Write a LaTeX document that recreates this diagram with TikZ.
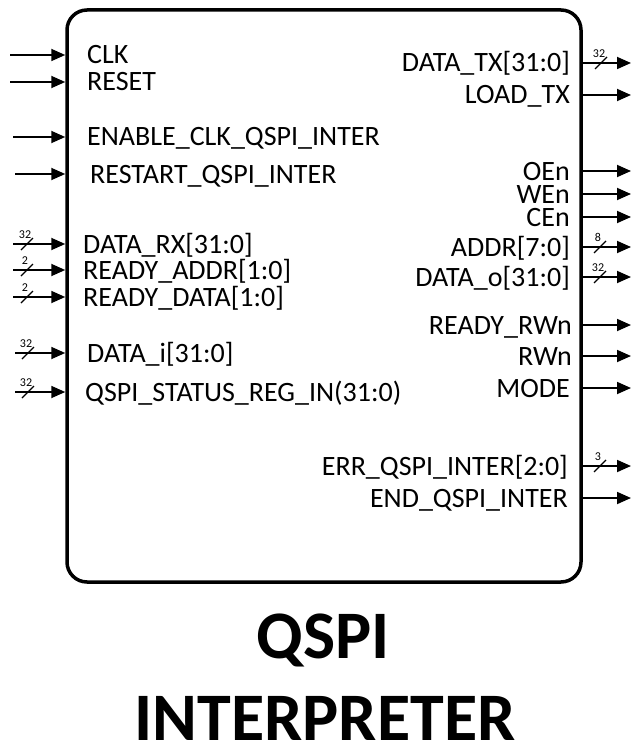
\documentclass[tikz,border=0pt]{standalone}
\usepackage{fontspec}
\setmainfont{Carlito}
\usetikzlibrary{arrows.meta}
\tikzset{
  sig/.style={line width=1.8pt,-{Triangle[length=14pt,width=12pt]}},
  port/.style={inner sep=0pt,font=\fontsize{28}{28}\selectfont,text height=18pt,text depth=0pt},
  inport/.style={port,anchor=west},
  outport/.style={port,anchor=east},
  busslash/.style={line width=1.2pt},
  buslabel/.style={inner sep=0pt,font=\fontsize{12}{12}\selectfont},
  pics/bus/.style={code={
    \draw[busslash] (-6,6) -- (6,-6);
    \node[buslabel] at (-2,-9.5) {#1};
  }},
  title/.style={inner sep=0pt,font=\fontsize{68}{68}\selectfont\bfseries,text height=43.8pt,text depth=0pt}
}
\begin{document}
\begin{tikzpicture}[x=1pt,y=-1pt]
\useasboundingbox (0,0) rectangle (632,746);

% the block
\node[draw,line width=3.5pt,rounded corners=20pt,inner sep=0pt,
      minimum width=514pt,minimum height=572pt] (blk) at (324,296) {};

% inputs
\node[inport] (clk)   at (87,55)  {CLK};
\node[inport] (rst)   at (87,82)  {RESET};
\node[inport] (ena)   at (87,137) {ENABLE\_CLK\_QSPI\_INTER};
\node[inport] (rsq)   at (90,174) {RESTART\_QSPI\_INTER};
\node[inport] (drx)   at (83,244) {DATA\_RX[31:0]};
\node[inport] (radr)  at (83,270) {READY\_ADDR[1:0]};
\node[inport] (rdat)  at (83,297) {READY\_DATA[1:0]};
\node[inport] (dati)  at (87,353) {DATA\_i[31:0]};
\node[inport] (stat)  at (85,392) {QSPI\_STATUS\_REG\_IN(31:0)};

\coordinate (clk-s)  at (10,55);
\coordinate (rst-s)  at (10,82);
\coordinate (ena-s)  at (13,137);
\coordinate (rsq-s)  at (15,174);
\coordinate (drx-s)  at (13,244);
\coordinate (radr-s) at (13,270);
\coordinate (rdat-s) at (13,297);
\coordinate (dati-s) at (15,353);
\coordinate (stat-s) at (15,392);

\foreach \p in {clk,rst,ena,rsq,drx,radr,rdat,dati,stat}
  \draw[sig] (\p-s) -- (\p-s -| blk.west);

\pic at (27,244) {bus=32};
\pic at (27,270) {bus=2};
\pic at (27,297) {bus=2};
\pic at (28,353) {bus=32};
\pic at (28,392) {bus=32};

% outputs
\node[outport] (dtx)  at (570,63)  {DATA\_TX[31:0]};
\node[outport] (ltx)  at (570,95)  {LOAD\_TX};
\node[outport] (oen)  at (570,171) {OEn};
\node[outport] (wen)  at (570,194) {WEn};
\node[outport] (cen)  at (570,217) {CEn};
\node[outport] (addr) at (570,247) {ADDR[7:0]};
\node[outport] (dato) at (570,277) {DATA\_o[31:0]};
\node[outport] (rrw)  at (572,325) {READY\_RWn};
\node[outport] (rwn)  at (572,356) {RWn};
\node[outport] (mode) at (570,388) {MODE};
\node[outport] (err)  at (568,466) {ERR\_QSPI\_INTER[2:0]};
\node[outport] (endq) at (568,498) {END\_QSPI\_INTER};

\coordinate (dtx-e)  at (631,63);
\coordinate (ltx-e)  at (631,95);
\coordinate (oen-e)  at (631,171);
\coordinate (wen-e)  at (631,194);
\coordinate (cen-e)  at (631,217);
\coordinate (addr-e) at (631,247);
\coordinate (dato-e) at (631,277);
\coordinate (rrw-e)  at (631,325);
\coordinate (rwn-e)  at (631,356);
\coordinate (mode-e) at (631,388);
\coordinate (err-e)  at (631,466);
\coordinate (endq-e) at (631,498);

\foreach \p in {dtx,ltx,oen,wen,cen,addr,dato,rrw,rwn,mode,err,endq}
  \draw[sig] (\p-e -| blk.east) -- (\p-e);

\pic at (601,63)  {bus=32};
\pic at (600,247) {bus=8};
\pic at (600,277) {bus=32};
\pic at (600,466) {bus=3};

% title
\node[title] (t1) at (323,637) {QSPI};
\node[title] (t2) at (325,719) {INTERPRETER};
\end{tikzpicture}
\end{document}
